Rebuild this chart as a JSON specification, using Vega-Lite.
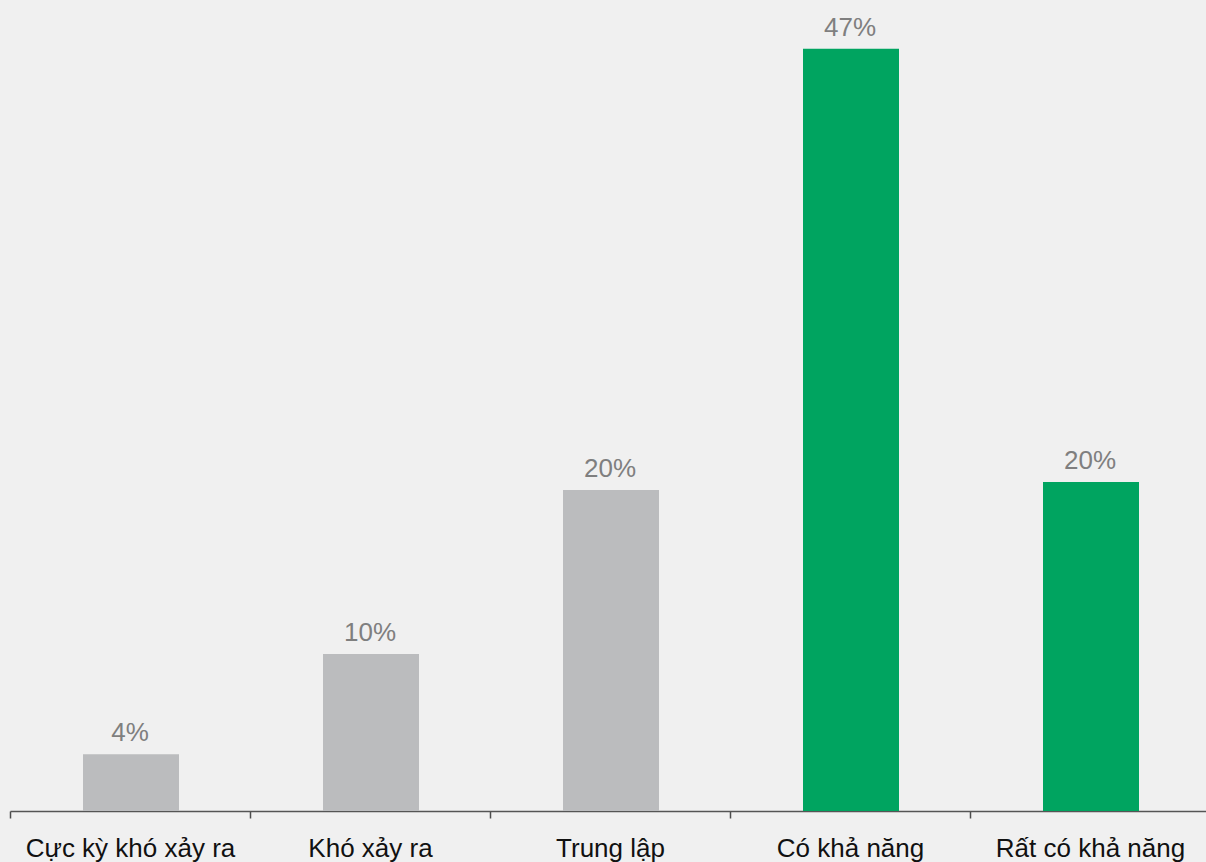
{
  "$schema": "https://vega.github.io/schema/vega-lite/v6.json",
  "width": 1200,
  "height": 811,
  "autosize": {"type": "none"},
  "padding": {"left": 10, "top": 0, "right": 0, "bottom": 51},
  "background": "#f0f0f0",
  "config": {"view": {"stroke": null}, "font": "Liberation Sans"},
  "data": {
    "values": [
      {"cat": "Cực kỳ khó xảy ra", "value": 3.5, "label": "4%", "group": "neg"},
      {"cat": "Khó xảy ra", "value": 9.68, "label": "10%", "group": "neg"},
      {"cat": "Trung lập", "value": 19.79, "label": "20%", "group": "neg"},
      {"cat": "Có khả năng", "value": 47, "label": "47%", "group": "pos"},
      {"cat": "Rất có khả năng", "value": 20.28, "label": "20%", "group": "pos"}
    ]
  },
  "encoding": {
    "x": {
      "field": "cat",
      "type": "nominal",
      "sort": null,
      "scale": {"paddingInner": 0, "paddingOuter": 0},
      "axis": {
        "title": null,
        "labelAngle": 0,
        "labelFontSize": 26,
        "labelColor": "#111111",
        "labelFont": "Liberation Sans",
        "labelBaseline": "alphabetic",
        "labelPadding": 38,
        "labelLimit": 0,
        "ticks": true,
        "tickSize": 7,
        "tickBand": "extent",
        "tickColor": "#4d4d4d",
        "tickWidth": 1.5,
        "domainColor": "#555555",
        "domainWidth": 1.3,
        "grid": false
      }
    },
    "y": {
      "field": "value",
      "type": "quantitative",
      "scale": {"domain": [0, 50], "nice": false},
      "axis": null
    }
  },
  "layer": [
    {
      "mark": {"type": "bar", "width": {"band": 0.4}, "xOffset": 1},
      "encoding": {
        "color": {
          "field": "group",
          "type": "nominal",
          "scale": {"domain": ["neg", "pos"], "range": ["#bbbcbe", "#00a460"]},
          "legend": null
        }
      }
    },
    {
      "mark": {"type": "text", "baseline": "alphabetic", "dy": -13, "fontSize": 26, "color": "#7f7f7f", "font": "Liberation Sans"},
      "encoding": {"text": {"field": "label"}}
    }
  ]
}
